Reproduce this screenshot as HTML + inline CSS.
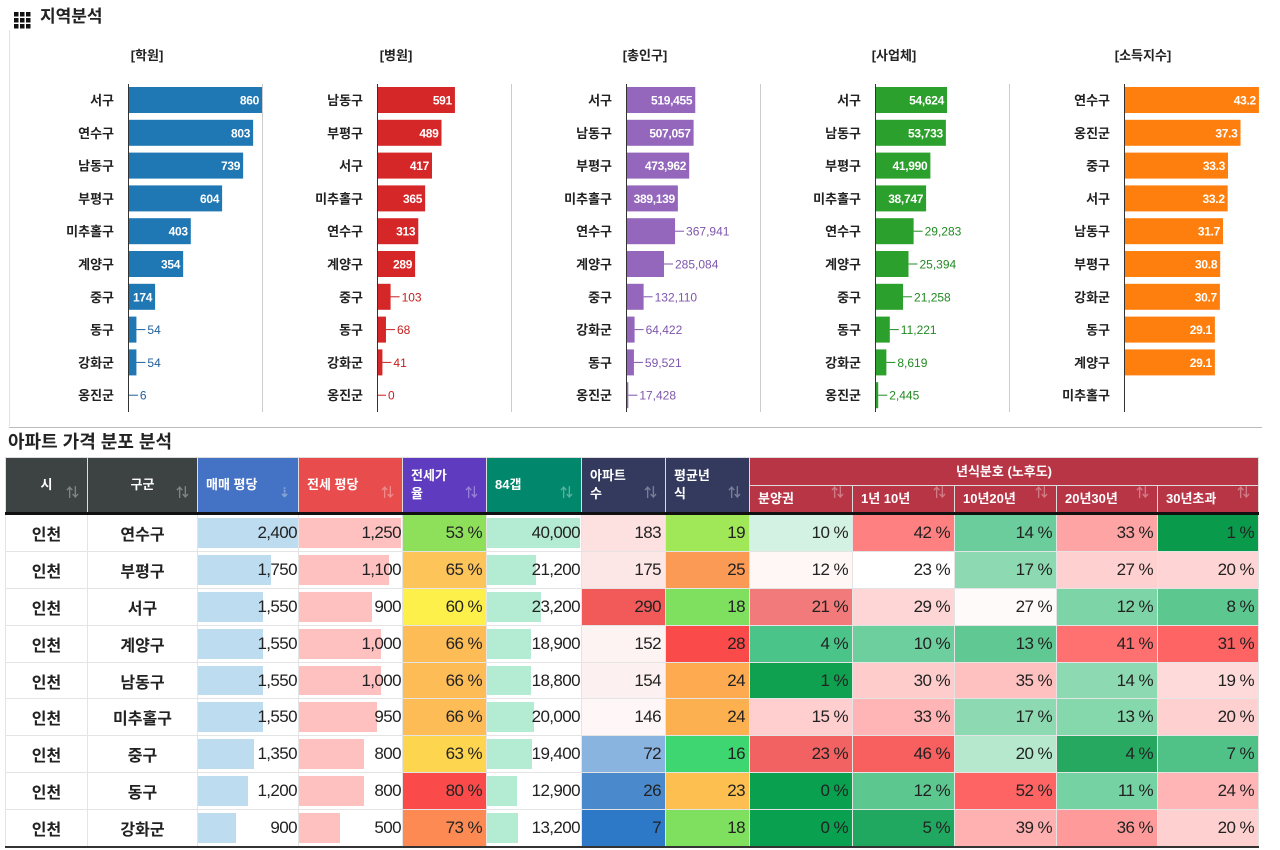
<!DOCTYPE html>
<html><head><meta charset="utf-8">
<style>
body{margin:0;width:1280px;height:850px;background:#fff;overflow:hidden;font-family:"Liberation Sans","Noto Sans CJK KR",sans-serif;position:relative}
#top{position:absolute;left:0;top:0}
#ttl2{position:absolute;left:8px;top:428px;font-size:18px;font-weight:bold;color:#222}
table{position:absolute;left:5px;top:457px;border-collapse:collapse;table-layout:fixed;font-family:"Liberation Sans","Noto Sans CJK KR",sans-serif}
th{color:#fff;font-size:13px;font-weight:bold;text-align:left;padding:0 8px;border:1px solid #ddd;position:relative;line-height:18px}
th.c{text-align:center}
th .s{position:absolute;right:8px;bottom:10px;color:rgba(255,255,255,.35);font-size:13px}
td{height:35.9px;padding:0 4px;border:1px solid #e4e4e4;font-size:17px;text-align:right;color:#222;letter-spacing:-0.6px;position:relative}
td.n{text-align:center;font-weight:bold;font-size:16px;letter-spacing:0}
td .b{position:absolute;left:0;top:3px;bottom:3px}
td span{position:relative}
</style></head><body>
<svg id="top" width="1280" height="430" xmlns="http://www.w3.org/2000/svg" font-family="Liberation Sans, Noto Sans CJK KR, sans-serif"></svg>
<div id="ttl2">아파트 가격 분포 분석</div>
<table id="tbl"></table>
<script>
const p1Names=["서구","연수구","남동구","부평구","미추홀구","계양구","중구","동구","강화군","옹진군"];
const p1Vals=[860,803,739,604,403,354,174,54,54,6];
const p2Names=["남동구","부평구","서구","미추홀구","연수구","계양구","중구","동구","강화군","옹진군"];
const p2Vals=[591,489,417,365,313,289,103,68,41,0];
const p3Names=["서구","남동구","부평구","미추홀구","연수구","계양구","중구","강화군","동구","옹진군"];
const p3Vals=[519455,507057,473962,389139,367941,285084,132110,64422,59521,17428];
const p4Names=["서구","남동구","부평구","미추홀구","연수구","계양구","중구","동구","강화군","옹진군"];
const p4Vals=[54624,53733,41990,38747,29283,25394,21258,11221,8619,2445];
const p5Names=["연수구","옹진군","중구","서구","남동구","부평구","강화군","동구","계양구","미추홀구"];
const p5Vals=[43.2,37.3,33.3,33.2,31.7,30.8,30.7,29.1,29.1,null];
const panelTitles=["[학원]","[병원]","[총인구]","[사업체]","[소득지수]"];
const panelMax=[860,1016,1005000,101600,42.9];
const panels=[[p1Names,p1Vals],[p2Names,p2Vals],[p3Names,p3Vals],[p4Names,p4Vals],[p5Names,p5Vals]];
const colors=["#1f77b4","#d62728","#9467bd","#2ca02c","#ff7f0e"];
const dark=["#1f5f9a","#c62020","#7e55ad","#228a22","#d96a00"];
const NS="http://www.w3.org/2000/svg";
const svg=document.getElementById("top");
function mk(t,a,p){const e=document.createElementNS(NS,t);for(const k in a)e.setAttribute(k,a[k]);(p||svg).appendChild(e);return e;}
const ic=mk("g",{});


for(let r=0;r<3;r++)for(let c=0;c<3;c++)mk("rect",{x:14+c*6,y:12+r*6,width:4.5,height:4.5,fill:"#111"},ic);
const t0=mk("text",{x:40,y:22,"font-size":17,"font-weight":"bold",fill:"#222"});t0.textContent="지역분석";


mk("line",{x1:9.5,y1:30,x2:9.5,y2:426,stroke:"#e2e2e2"});
mk("line",{x1:9,y1:427.5,x2:1262,y2:427.5,stroke:"#bbb"});
const rowY=i=>100+i*32.8;
function fmt(v){return v%1!==0?v.toFixed(1):v.toLocaleString("en-US");}
panels.forEach((p,k)=>{
  const ax=128+249*k, W=134;
  const xs=v=>v/panelMax[k]*W;
  const g=mk("g",{});
  
  
  const tt=mk("text",{x:ax+19,y:60,"font-size":13,"font-weight":"bold","text-anchor":"middle",fill:"#222"},g);tt.textContent=panelTitles[k];
  if(k<4)mk("line",{x1:262.5+249*k,y1:84,x2:262.5+249*k,y2:412,stroke:"#ccc"},g);
  p[0].forEach((n,i)=>{
    const y=rowY(i);
    const l=mk("text",{x:ax-14,y:y+5,"font-size":13,"font-weight":"bold","text-anchor":"end",fill:"#222"},g);l.textContent=n;
    const v=p[1][i]; if(v===null)return;
    const w=xs(v);
    const r=mk("rect",{x:ax,y:y-13,width:w,height:26,fill:colors[k]},g);
    
    
    const s=fmt(v), tw=s.length*6.6;
    if(w>=tw+4){const t=mk("text",{x:ax+w-3,y:y+4.5,"font-size":12,"font-weight":"bold","text-anchor":"end",fill:"#fff","letter-spacing":"-0.3"},g);t.textContent=s;}
    else{mk("line",{x1:ax+w,y1:y,x2:ax+w+9,y2:y,stroke:dark[k]},g);
      const t=mk("text",{x:ax+w+11,y:y+4.5,"font-size":12,fill:dark[k]},g);t.textContent=s;}
  });
  mk("line",{x1:ax+0.5,y1:84,x2:ax+0.5,y2:412,stroke:"#333"},g);
});
const widths=[82,110,101,104,84,95,84,84,103,102,102,101,101];
const gu=["연수구","부평구","서구","계양구","남동구","미추홀구","중구","동구","강화군"];
const sale=[2400,1750,1550,1550,1550,1550,1350,1200,900];
const jeonse=[1250,1100,900,1000,1000,950,800,800,500];
const ratio=[53,65,60,66,66,66,63,80,73];
const gap=[40000,21200,23200,18900,18800,20000,19400,12900,13200];
const aptCount=[183,175,290,152,154,146,72,26,7];
const avgAge=[19,25,18,28,24,24,16,23,18];
const ageA=[10,12,21,4,1,15,23,0,0];
const ageB=[42,23,29,10,30,33,46,12,5];
const ageC=[14,17,27,13,35,17,20,52,39];
const ageD=[33,27,12,41,14,13,4,11,36];
const ageE=[1,20,8,31,19,20,7,24,20];
const cRatio=["#8ee05a","#fdc45a","#fdf04a","#fdbc55","#fdbc55","#fdbc55","#fdd54e","#fa4a4a","#fc8a52"];
const cApt=["#fde0e0","#fde6e6","#f25a5a","#fdf3f3","#fdf0f0","#fff7f7","#8ab4e0","#4a8acc","#2e78c8"];
const cAge=["#a0e858","#fb9a55","#7ee05e","#fa4a4a","#fdaa50","#fdb04f","#3ed670","#fdc050","#7ee05e"];
const cA=["#d4f2e3","#fff6f6","#f27a7a","#4bc48a","#0fa050","#ffcece","#f26262","#09a050","#09a050"];
const cB=["#ff8080","#ffffff","#ffd6d6","#6ecf9e","#ffcccc","#ffb5b5","#f86060","#5cc890","#20a860"];
const cC=["#6ccd9c","#8ddab2","#fffafa","#60c892","#ffc0c0","#8ddab2","#b5e8cc","#ff6464","#ffb0b0"];
const cD=["#ffa4a4","#ffd0d0","#7dd4a6","#ff7070","#8ddab2","#85d7ac","#26a860","#75d2a2","#ff9a9a"];
const cE=["#0a9a4c","#ffd4d4","#5cc890","#ff6464","#ffdada","#ffd0d0","#50c288","#ffb5b5","#ffd0d0"];
const tb=document.getElementById("tbl");
let h='<colgroup>'+widths.map(w=>'<col style="width:'+w+'px">').join('')+'</colgroup>';
const S='<span class="s">⇅</span>';
h+='<tr style="height:28px">'+
'<th rowspan="2" class="c" style="background:#3d4242">시'+S+'</th>'+
'<th rowspan="2" class="c" style="background:#3d4242">구군'+S+'</th>'+
'<th rowspan="2" style="background:#4472c4">매매 평당<span class="s">⇣</span></th>'+
'<th rowspan="2" style="background:#e84c4c">전세 평당'+S+'</th>'+
'<th rowspan="2" style="background:#5e3bbf">전세가<br>율'+S+'</th>'+
'<th rowspan="2" style="background:#00876c">84갭'+S+'</th>'+
'<th rowspan="2" style="background:#333a5e">아파트<br>수'+S+'</th>'+
'<th rowspan="2" style="background:#333a5e">평균년<br>식'+S+'</th>'+
'<th colspan="5" class="c" style="background:#b83546">년식분호 (노후도)</th></tr>';
h+='<tr style="height:28px">'+["분양권","1년 10년","10년20년","20년30년","30년초과"].map((t,i)=>'<th style="background:#b83546">'+t+S+'</th>').join('')+'</tr>';
tb.innerHTML=h;
const f=v=>v.toLocaleString("en-US");
const bar=(v,m,w,c)=>'<div class="b" style="width:'+(v/m*w)+'px;background:'+c+'"></div><span>'+f(v)+'</span>';
gu.forEach((g,i)=>{
  const tr=document.createElement("tr");
  if(i===0)tr.style.borderTop="3px solid #111";
  
  
  tr.innerHTML='<td class="n">인천</td><td class="n">'+g+'</td>'+
  '<td style="padding-right:1px">'+bar(sale[i],2400,100,"#bddcf0")+'</td>'+
  '<td style="padding-right:1px">'+bar(jeonse[i],1250,102,"#ffc0c0")+'</td>'+
  '<td style="background:'+cRatio[i]+'">'+ratio[i]+' %</td>'+
  '<td style="padding-right:1px">'+bar(gap[i],40000,93,"#b3ecd3")+'</td>'+
  '<td style="background:'+cApt[i]+'">'+aptCount[i]+'</td>'+
  '<td style="background:'+cAge[i]+'">'+avgAge[i]+'</td>'+
  [[ageA,cA],[ageB,cB],[ageC,cC],[ageD,cD],[ageE,cE]].map(a=>'<td style="background:'+a[1][i]+'">'+a[0][i]+' %</td>').join('');
  tb.appendChild(tr);
});
tb.style.borderBottom="2px solid #333";
</script>
</body></html>
